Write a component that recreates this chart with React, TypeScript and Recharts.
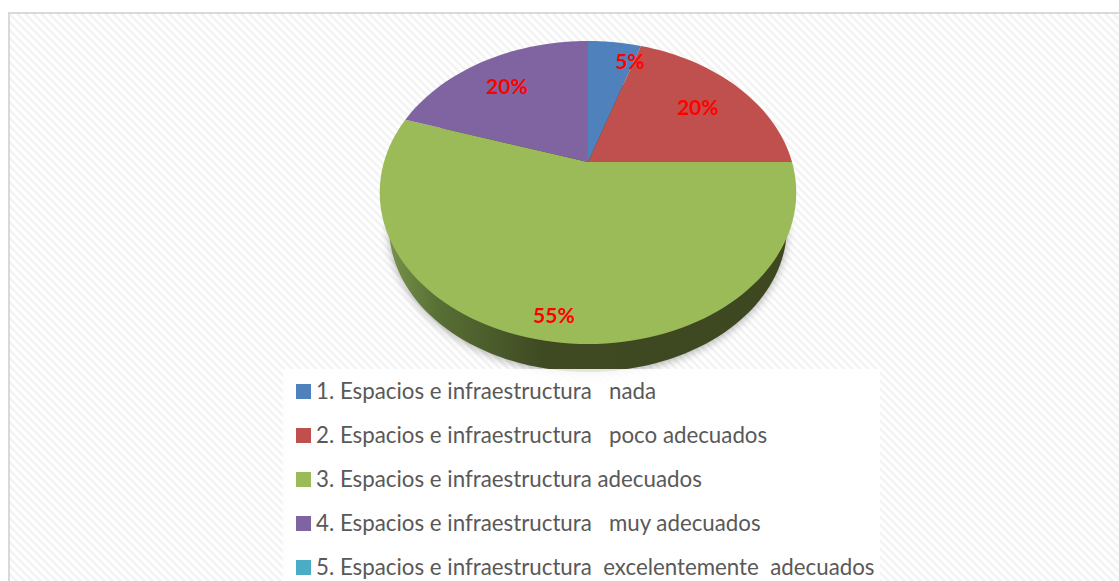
import React from 'react';
import { PieChart, Pie, Legend } from 'recharts';

const categories = [
  '1. Espacios e infraestructura   nada',
  '2. Espacios e infraestructura   poco adecuados',
  '3. Espacios e infraestructura adecuados',
  '4. Espacios e infraestructura   muy adecuados',
  '5. Espacios e infraestructura  excelentemente  adecuados',
];
const percentages = [5, 20, 55, 20, 0];
const colors = ['#4f81bd', '#c0504d', '#9bbb59', '#8064a2', '#4bacc6'];

// Excel moved the labels around by hand, so each one gets a small nudge
const labelNudges = [[21, -8], [-4, 3], [-6, 26], [-1, 2], [0, 0]];

const rows = categories.map((name, i) => ({ name, value: percentages[i], fill: colors[i] }));

// perspective of the tilted disc: apex is not the ellipse centre
const HALF_W = 204;
const HALF_H = 145.4;
const TILT = 0.2013;

const project = (cx: number, cy: number, clockDeg: number, r: number, scale = 1) => {
  const rad = (clockDeg * Math.PI) / 180;
  const u = Math.sin(rad) * r;
  const v = Math.cos(rad) * r;
  const d = 1 + TILT * v;
  return [cx + (scale * HALF_W * u) / d, cy - (scale * HALF_H * v) / d];
};

const slicePath = (cx: number, cy: number, start: number, end: number, scale = 1) => {
  const from = 90 - start;
  const to = 90 - end;
  const steps = Math.max(2, Math.ceil((to - from) / 2));
  let path = `M${cx},${cy}`;
  for (let i = 0; i <= steps; i++) {
    const [x, y] = project(cx, cy, from + ((to - from) * i) / steps, 1, scale);
    path += `L${x.toFixed(2)},${y.toFixed(2)}`;
  }
  return path + 'Z';
};

const TopSlice = (props: any) => (
  <path d={slicePath(props.cx, props.cy, props.startAngle, props.endAngle)} fill={props.fill} stroke="none" />
);

// side wall: the same disc, lower down and a little smaller
const WallSlice = (props: any) => (
  <path
    d={slicePath(props.cx, props.cy + 36, props.startAngle, props.endAngle, 0.955)}
    fill="url(#wall)"
    stroke="none"
    style={{ filter: 'drop-shadow(0px 2px 4px rgba(0,0,0,0.3))' }}
  />
);

const renderLabel = (props: any) => {
  if (!props.value) return null;
  const [dx, dy] = labelNudges[props.index];
  const [x, y] = project(props.cx, props.cy, 90 - props.midAngle, 0.75);
  return (
    <text
      x={x + dx}
      y={y + dy}
      textAnchor="middle"
      dominantBaseline="central"
      fill="#ff0000"
      fontSize={21}
      fontWeight={700}
      fontFamily="Lato"
    >
      {props.value}%
    </text>
  );
};

// two pies feed the legend, so the rows come straight from the table
const LegendRows = () => (
  <div style={{ width: 597, height: 212, background: 'rgba(255,255,255,0.85)' }}>
    {rows.map((entry, i) => (
      <div key={i} style={{ display: 'flex', alignItems: 'center', height: 44, paddingLeft: 13 }}>
        <span style={{ width: 15, height: 15, background: entry.fill, marginRight: 5, flex: 'none' }} />
        <span style={{ whiteSpace: 'pre', fontFamily: 'Lato', fontSize: 22.3, color: '#595959', position: 'relative', top: -1 }}>
          {entry.name}
        </span>
      </div>
    ))}
  </div>
);

export default function App() {
  return (
    <div style={{ position: 'absolute', left: 0, top: 0, width: 1119, height: 581, overflow: 'hidden', background: '#fff' }}>
      <div
        style={{
          position: 'absolute',
          left: 8,
          top: 12,
          width: 1111,
          height: 569,
          boxSizing: 'border-box',
          borderLeft: '2px solid #d9d9d9',
          borderTop: '2px solid #d9d9d9',
          background: 'repeating-linear-gradient(45deg, #fff 0, #fff 2.83px, #f4f4f4 2.83px, #f4f4f4 5.66px)',
        }}
      />
      <div style={{ position: 'absolute', left: 0, top: 0 }}>
        <PieChart width={1119} height={581} margin={{ top: 0, right: 0, bottom: 0, left: 0 }}>
          <defs>
            <linearGradient id="wall" gradientUnits="userSpaceOnUse" x1="390" y1="0" x2="790" y2="0">
              <stop offset="0" stopColor="#76914a" />
              <stop offset="0.12" stopColor="#586f35" />
              <stop offset="0.38" stopColor="#3f4a22" />
              <stop offset="1" stopColor="#3e4820" />
            </linearGradient>
          </defs>
          <Pie
            data={rows}
            dataKey="value"
            nameKey="name"
            cx={588}
            cy={162}
            outerRadius={100}
            startAngle={90}
            endAngle={-270}
            stroke="none"
            legendType="none"
            shape={WallSlice}
            isAnimationActive={false}
          />
          <Pie
            data={rows}
            dataKey="value"
            nameKey="name"
            cx={588}
            cy={162}
            outerRadius={100}
            startAngle={90}
            endAngle={-270}
            stroke="none"
            shape={TopSlice}
            label={renderLabel}
            labelLine={false}
            isAnimationActive={false}
          />
          <Legend
            verticalAlign="bottom"
            content={<LegendRows />}
            wrapperStyle={{ position: 'absolute', left: 283, top: 369, bottom: 'auto', width: 597 }}
          />
        </PieChart>
      </div>
    </div>
  );
}
